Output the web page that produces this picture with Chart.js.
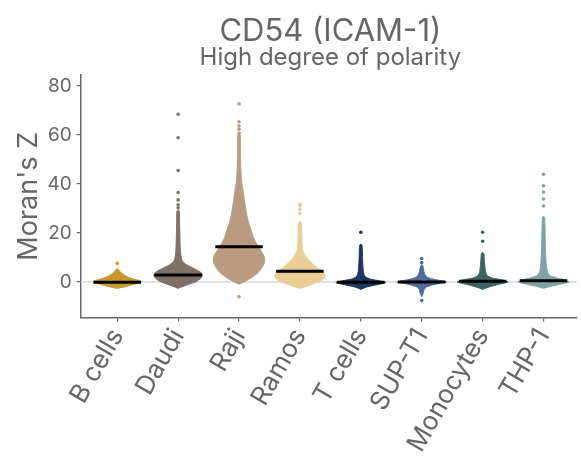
<!DOCTYPE html>
<html>
<head>
<meta charset="utf-8">
<script src="https://cdn.jsdelivr.net/npm/chart.js@4"></script>
<style>
  html, body { margin: 0; padding: 0; background: #fff; }
</style>
</head>
<body>
<canvas id="chart" width="581" height="471"></canvas>
<script>
const categories = ["B cells", "Daudi", "Raji", "Ramos", "T cells", "SUP-T1", "Monocytes", "THP-1"];
const colors = ["#C9992F", "#7F7068", "#B89B80", "#E9CC96", "#1E3461", "#4F6A9B", "#3D6463", "#80A2A5"];
const medians = [-0.1, 2.9, 14.4, 4.4, -0.1, 0, 0.3, 0.5];
const yTicks = [0, 20, 40, 60, 80];

// swarm outline: [Moran's Z, half width of the swarm]
const bCells = [[-2.6, 0], [-2, 0.12], [-1.2, 0.24], [-0.5, 0.34], [0, 0.4], [0.6, 0.36], [1.2, 0.27], [2.2, 0.16], [3.5, 0.08], [4.5, 0.04], [5.6, 0]];
const daudi = [[-2.6, 0], [-2, 0.06], [-1, 0.17], [0, 0.28], [1, 0.35], [2, 0.39], [3, 0.4], [4, 0.37], [5, 0.3], [6, 0.22], [7, 0.14], [8, 0.09], [9, 0.06], [11, 0.045], [14, 0.035], [18, 0.03], [24, 0.025], [29, 0.02], [29.4, 0]];
const raji = [[-1, 0], [0, 0.08], [2, 0.22], [4, 0.32], [6, 0.38], [8, 0.42], [10, 0.42], [12, 0.38], [14, 0.33], [16, 0.28], [18, 0.24], [21, 0.2], [24, 0.16], [27, 0.13], [30, 0.11], [33, 0.09], [36, 0.075], [39, 0.055], [42, 0.04], [46, 0.03], [52, 0.024], [60, 0.02], [60.5, 0]];
const ramos = [[-2.6, 0], [-2, 0.08], [-1.2, 0.18], [0, 0.3], [0.8, 0.37], [2, 0.41], [3, 0.41], [4, 0.38], [4.9, 0.34], [6, 0.27], [7.6, 0.2], [9, 0.14], [10.3, 0.1], [12, 0.06], [13, 0.045], [16, 0.035], [20, 0.03], [24, 0.025], [24.8, 0]];
const tCells = [[-3, 0], [-2, 0.1], [-1, 0.29], [-0.2, 0.41], [0.5, 0.3], [1.2, 0.15], [2, 0.08], [3, 0.055], [4.5, 0.04], [7, 0.033], [10, 0.028], [15, 0.02], [15.5, 0]];
const supT1 = [[-6, 0], [-4.5, 0.025], [-3, 0.04], [-2, 0.08], [-1.2, 0.18], [-0.5, 0.3], [0, 0.41], [0.6, 0.3], [1.3, 0.16], [2, 0.09], [3, 0.055], [4.5, 0.035], [6.5, 0.02], [7, 0]];
const monocytes = [[-3, 0], [-2, 0.11], [-1, 0.26], [0, 0.42], [0.8, 0.33], [1.6, 0.16], [2.5, 0.08], [4, 0.05], [6, 0.04], [8.5, 0.03], [11.7, 0.02], [12, 0]];
const thp1 = [[-2.6, 0], [-2, 0.08], [-1, 0.26], [0, 0.42], [0.8, 0.36], [1.6, 0.23], [2.5, 0.11], [4, 0.065], [6, 0.05], [9, 0.04], [13, 0.033], [18, 0.028], [23, 0.024], [26.4, 0.018], [26.8, 0]];
const profiles = [bCells, daudi, raji, ramos, tCells, supT1, monocytes, thp1];

// single cells standing apart from the swarm
const outliers = [
  [7.6],
  [30.3, 31.5, 33.5, 36.5, 45.5, 58.9, 68.5],
  [-6, 60.7, 62.4, 63.8, 65.4, 72.7],
  [28, 29.7, 31.2, 31.8],
  [20.3],
  [-7.6, 7.9, 9.6],
  [16.6, 20.3],
  [31, 33.9, 36.7, 39.3, 44]
];

var datasets = [];

datasets.push({
  data: [{ x: 0.4, y: 0 }, { x: 8.6, y: 0 }],
  showLine: true,
  borderColor: "#d9d9d9",
  borderWidth: 1.5,
  pointRadius: 0,
  order: 20
});

profiles.forEach(function (prof, i) {
  var c = i + 1;
  var right = prof.map(function (p) { return { x: c + p[1], y: p[0] }; });
  var left = prof.slice().reverse().map(function (p) { return { x: c - p[1], y: p[0] }; });
  datasets.push({
    data: right.concat(left),
    showLine: true,
    fill: "shape",
    tension: 0.15,
    backgroundColor: colors[i],
    borderColor: colors[i],
    borderWidth: 1,
    pointRadius: 0,
    order: 10
  });
  datasets.push({
    data: outliers[i].map(function (v) { return { x: c, y: v }; }),
    pointRadius: 1.8,
    pointBackgroundColor: colors[i],
    pointBorderWidth: 0,
    order: 5
  });
  datasets.push({
    data: [{ x: c - 0.39, y: medians[i] }, { x: c + 0.39, y: medians[i] }],
    showLine: true,
    borderColor: "#000",
    borderWidth: 3,
    pointRadius: 0,
    order: 1
  });
});

const titles = {
  id: "titles",
  afterDraw: function (chart) {
    var ctx = chart.ctx;
    var cx = chart.scales.x.getPixelForValue(4.5);
    ctx.save();
    ctx.fillStyle = "#666";
    ctx.textAlign = "center";
    ctx.font = "31px Inter";
    ctx.fillText("CD54 (ICAM-1)", cx, 41);
    ctx.font = "24px Inter";
    ctx.fillText("High degree of polarity", cx, 65);
    ctx.restore();
  }
};

new Chart(document.getElementById("chart"), {
  type: "scatter",
  data: { datasets: datasets },
  plugins: [titles],
  options: {
    responsive: false,
    animation: false,
    layout: { padding: { top: 75, left: 0, right: 0, bottom: 0 } },
    plugins: { legend: { display: false }, tooltip: { enabled: false } },
    scales: {
      x: {
        type: "linear",
        min: 0.4,
        max: 8.55,
        afterBuildTicks: function (s) {
          s.ticks = categories.map(function (_, i) { return { value: i + 1 }; });
        },
        afterFit: function (s) { s.height = 153.5; },
        ticks: {
          callback: function (v) { return categories[v - 1]; },
          font: { family: "Inter", size: 26 },
          color: "#666",
          minRotation: 60,
          maxRotation: 60,
          autoSkip: false,
          padding: 2
        },
        grid: { drawOnChartArea: false, drawTicks: true, tickLength: 4, color: "#666", lineWidth: 1.2 },
        border: { color: "#666", width: 1.5 }
      },
      y: {
        min: -14.5,
        max: 84.5,
        afterBuildTicks: function (s) {
          s.ticks = yTicks.map(function (v) { return { value: v }; });
        },
        afterFit: function (s) { s.width = 80.7; },
        ticks: { font: { family: "Inter", size: 19 }, color: "#666", padding: 5 },
        grid: { drawOnChartArea: false, drawTicks: true, tickLength: 4, color: "#666", lineWidth: 1.2 },
        border: { color: "#666", width: 1.5 },
        title: {
          display: true,
          text: "Moran's Z",
          font: { family: "Inter", size: 27 },
          color: "#666",
          padding: { top: 13, bottom: 0 }
        }
      }
    }
  }
});
</script>
</body>
</html>
